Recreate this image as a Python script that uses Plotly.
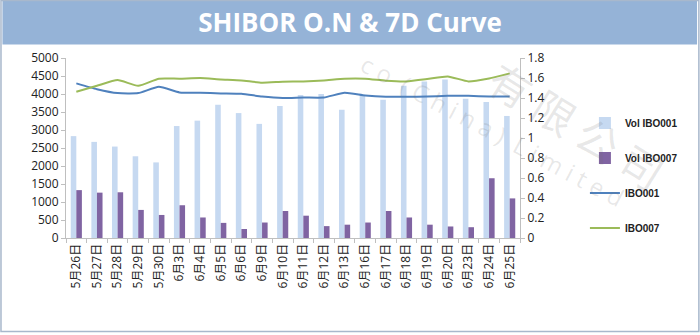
import plotly.graph_objects as go

categories = ["5月26日", "5月27日", "5月28日", "5月29日", "5月30日", "6月3日", "6月4日",
              "6月5日", "6月6日", "6月9日", "6月10日", "6月11日", "6月12日", "6月13日",
              "6月16日", "6月17日", "6月18日", "6月19日", "6月20日", "6月23日", "6月24日", "6月25日"]
vol_ibo001 = [2830, 2670, 2540, 2270, 2100, 3110, 3260, 3700, 3470, 3170, 3670,
              3970, 4000, 3560, 3950, 3840, 4230, 4350, 4400, 3870, 3780, 3390]
vol_ibo007 = [1330, 1260, 1270, 780, 640, 910, 570, 420, 250, 430, 750,
              620, 330, 370, 430, 750, 570, 370, 320, 300, 1660, 1100]
ibo001 = [1.546, 1.488, 1.449, 1.449, 1.512, 1.456, 1.452, 1.446, 1.442, 1.415, 1.400,
          1.405, 1.405, 1.452, 1.425, 1.412, 1.412, 1.415, 1.422, 1.422, 1.415, 1.415]
ibo007 = [1.462, 1.522, 1.579, 1.522, 1.593, 1.593, 1.599, 1.586, 1.576, 1.553, 1.563,
          1.566, 1.576, 1.593, 1.593, 1.573, 1.566, 1.589, 1.616, 1.566, 1.596, 1.646]

FONT = "Open Sans, Noto Sans CJK SC, sans-serif"

fig = go.Figure()
fig.add_trace(go.Bar(x=categories, y=vol_ibo001, name="Vol IBO001",
                     marker=dict(color="#c6d9f1", line=dict(width=0)), legendgroup="a"))
fig.add_trace(go.Bar(x=categories, y=vol_ibo007, name="Vol IBO007",
                     marker=dict(color="#8064a2", line=dict(width=0)), legendgroup="b"))
fig.add_trace(go.Scatter(x=categories, y=ibo001, name="IBO001", mode="lines", yaxis="y2",
                         line=dict(color="#4f81bd", width=2, shape="spline", smoothing=0.5),
                         legendgroup="c"))
fig.add_trace(go.Scatter(x=categories, y=ibo007, name="IBO007", mode="lines", yaxis="y2",
                         line=dict(color="#9bbb59", width=2, shape="spline", smoothing=0.5),
                         legendgroup="d"))

axis_common = dict(showline=True, linecolor="#bfbfbf", linewidth=1, ticks="outside",
                   ticklen=4, tickcolor="#bfbfbf", showgrid=False, zeroline=False,
                   tickfont=dict(family=FONT, size=12, color="#222222"))

wm_color = "rgba(110,110,110,0.16)"

fig.update_layout(
    width=700, height=335,
    margin=dict(l=66, r=180, t=58, b=97),
    paper_bgcolor="white", plot_bgcolor="white",
    barmode="group", bargap=0.46, bargroupgap=0,
    title=dict(text="<b>SHIBOR O.N &amp; 7D Curve</b>", x=0.5, xanchor="center",
               y=0.932, yanchor="middle",
               font=dict(family="Open Sans, sans-serif", size=26, color="white")),
    xaxis=dict(**axis_common, tickangle=-90, tickson="boundaries", type="category"),
    yaxis=dict(**axis_common, range=[0, 5000], dtick=500),
    yaxis2=dict(**axis_common, range=[0, 1.8], dtick=0.2, overlaying="y", side="right"),
    legend=dict(x=1.143, xanchor="left", y=0.72, yanchor="top",
                font=dict(family="Arial, Liberation Sans, sans-serif", size=10,
                          color="#222222", weight="bold"),
                tracegroupgap=16, bgcolor="rgba(0,0,0,0)"),
    showlegend=True,
    shapes=[
        dict(type="rect", xref="paper", yref="paper", x0=-0.14, x1=1.39, y0=1.075, y1=1.318,
             fillcolor="#95b3d7", line=dict(width=0), layer="below"),
        dict(type="rect", xref="paper", yref="paper", x0=-0.1432, x1=1.394, y0=-0.52, y1=1.319,
             fillcolor="rgba(0,0,0,0)", line=dict(color="#a8b8cc", width=1.5)),
    ],
    annotations=[
        dict(text="有 限 公 司", xref="paper", yref="paper", x=1.125, y=0.63,
             xanchor="center", yanchor="middle", showarrow=False,
             textangle=32, font=dict(family="Noto Sans CJK SC", size=42, color=wm_color)),
        dict(text="c o  ( C h i n a )  L i m i t e d", xref="paper", yref="paper",
             x=0.94, y=0.6, xanchor="center", yanchor="middle", showarrow=False,
             textangle=28, font=dict(family="Open Sans", size=24, color=wm_color)),
    ],
)

fig.write_html("out.html")
